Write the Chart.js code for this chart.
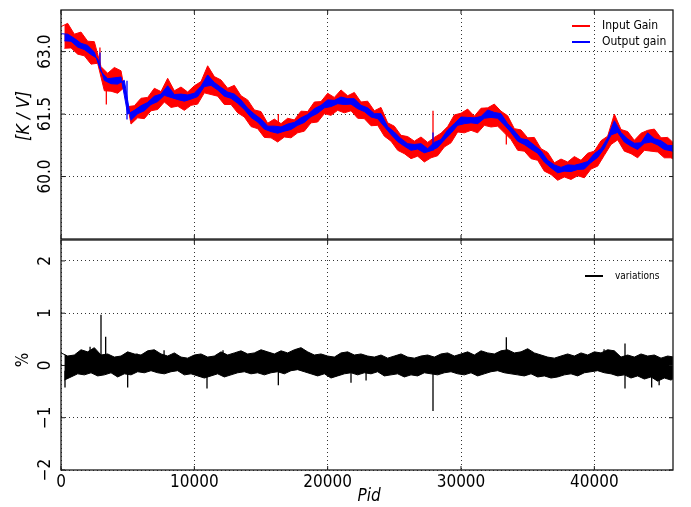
<!DOCTYPE html>
<html>
<head>
<meta charset="utf-8">
<script src="https://cdn.jsdelivr.net/npm/chart.js@4.4.0/dist/chart.umd.min.js"></script>
<style>
    html, body { margin: 0; padding: 0; background: #fff; }
    #wrap { position: relative; width: 691px; height: 507px; }
    canvas { position: absolute; left: 0; top: 0; }
</style>
</head>
<body>
<div id="wrap">
    <canvas id="gainChart" width="691" height="507"></canvas>
    <canvas id="varChart" width="691" height="507"></canvas>
</div>
<script>
// samples every 500 Pid (upper edge of the trace), lower edge sits 250 Pid later
const pidStep = 500;

const inputGainHi = [63.60, 63.68, 63.42, 63.47, 63.25, 63.24, 62.64, 62.48, 62.62, 62.54,
    61.68, 61.70, 61.88, 61.90, 62.12, 62.04, 62.36, 62.06, 62.15, 62.03,
    62.18, 62.28, 62.66, 62.40, 62.32, 62.12, 62.19, 61.94, 61.84, 61.60,
    61.56, 61.28, 61.38, 61.27, 61.40, 61.36, 61.57, 61.56, 61.79, 61.80,
    62.00, 61.90, 62.08, 61.94, 62.02, 61.79, 61.81, 61.58, 61.66, 61.29,
    61.21, 60.99, 60.96, 60.85, 60.95, 60.82, 60.94, 61.04, 61.20, 61.48,
    61.52, 61.62, 61.45, 61.64, 61.65, 61.74, 61.57, 61.46, 61.15, 61.12,
    60.93, 60.94, 60.67, 60.58, 60.33, 60.42, 60.35, 60.48, 60.39, 60.56,
    60.61, 60.86, 60.97, 61.50, 61.13, 61.08, 60.87, 61.04, 61.11, 61.14,
    60.93, 60.94, 60.79];
const inputGainLo = [63.08, 63.09, 62.94, 62.90, 62.70, 62.72, 62.06, 62.05, 62.00, 62.14,
    61.26, 61.41, 61.39, 61.58, 61.61, 61.79, 61.66, 61.69, 61.59, 61.71,
    61.74, 62.01, 61.97, 61.93, 61.73, 61.73, 61.53, 61.43, 61.20, 61.15,
    60.94, 60.93, 60.83, 60.95, 60.93, 61.05, 61.09, 61.29, 61.31, 61.51,
    61.47, 61.59, 61.53, 61.58, 61.40, 61.39, 61.22, 61.23, 60.97, 60.85,
    60.63, 60.55, 60.43, 60.49, 60.35, 60.45, 60.50, 60.71, 60.81, 61.07,
    61.05, 61.11, 61.05, 61.23, 61.19, 61.21, 61.05, 60.89, 60.63, 60.61,
    60.43, 60.39, 60.13, 60.05, 59.91, 59.99, 59.93, 60.02, 59.97, 60.18,
    60.25, 60.51, 60.77, 60.88, 60.61, 60.55, 60.45, 60.63, 60.61, 60.59,
    60.45, 60.45, 60.35];

const outputGainHi = [63.43, 63.42, 63.32, 63.20, 63.15, 62.99, 62.52, 62.35, 62.37, 62.39,
    61.50, 61.59, 61.70, 61.78, 61.93, 61.98, 62.18, 61.97, 61.98, 61.96,
    62.00, 62.17, 62.44, 62.26, 62.14, 62.03, 61.98, 61.84, 61.64, 61.50,
    61.38, 61.21, 61.21, 61.19, 61.26, 61.30, 61.41, 61.49, 61.63, 61.71,
    61.84, 61.83, 61.91, 61.87, 61.87, 61.71, 61.65, 61.51, 61.51, 61.20,
    61.07, 60.91, 60.79, 60.77, 60.79, 60.67, 60.82, 60.89, 61.12, 61.27,
    61.43, 61.42, 61.41, 61.44, 61.60, 61.54, 61.51, 61.27, 61.10, 60.91,
    60.88, 60.75, 60.62, 60.39, 60.28, 60.22, 60.28, 60.27, 60.31, 60.36,
    60.55, 60.67, 60.93, 61.34, 61.06, 60.90, 60.80, 60.81, 61.05, 60.91,
    60.86, 60.75, 60.74];
const outputGainLo = [63.26, 63.25, 63.11, 63.05, 62.93, 62.83, 62.31, 62.23, 62.22, 62.31,
    61.35, 61.51, 61.58, 61.73, 61.80, 61.95, 61.90, 61.85, 61.81, 61.86,
    61.92, 62.16, 62.19, 62.08, 61.93, 61.88, 61.76, 61.61, 61.42, 61.31,
    61.14, 61.08, 61.04, 61.09, 61.13, 61.23, 61.30, 61.44, 61.52, 61.65,
    61.68, 61.75, 61.73, 61.74, 61.63, 61.56, 61.43, 61.39, 61.20, 61.01,
    60.84, 60.73, 60.63, 60.66, 60.57, 60.62, 60.70, 60.88, 61.04, 61.23,
    61.27, 61.29, 61.27, 61.40, 61.42, 61.40, 61.24, 61.06, 60.85, 60.77,
    60.66, 60.56, 60.35, 60.21, 60.09, 60.13, 60.12, 60.17, 60.18, 60.34,
    60.46, 60.68, 61.00, 61.06, 60.83, 60.73, 60.65, 60.80, 60.83, 60.76,
    60.65, 60.62, 60.56];

const variationsHi = [0.24, 0.18, 0.20, 0.30, 0.26, 0.34, 0.20, 0.22, 0.16, 0.18,
    0.26, 0.22, 0.20, 0.28, 0.30, 0.22, 0.18, 0.24, 0.16, 0.14,
    0.20, 0.22, 0.16, 0.18, 0.26, 0.20, 0.24, 0.28, 0.22, 0.24,
    0.30, 0.26, 0.22, 0.28, 0.24, 0.30, 0.34, 0.26, 0.20, 0.22,
    0.18, 0.16, 0.24, 0.26, 0.20, 0.22, 0.18, 0.16, 0.20, 0.14,
    0.18, 0.22, 0.16, 0.14, 0.18, 0.20, 0.16, 0.22, 0.24, 0.18,
    0.22, 0.26, 0.20, 0.28, 0.24, 0.22, 0.28, 0.30, 0.24, 0.26,
    0.32, 0.24, 0.20, 0.16, 0.14, 0.18, 0.22, 0.18, 0.24, 0.20,
    0.26, 0.24, 0.30, 0.28, 0.16, 0.20, 0.16, 0.22, 0.18, 0.20,
    0.14, 0.18, 0.16];
const variationsLo = [-0.28, -0.22, -0.16, -0.18, -0.14, -0.20, -0.18, -0.14, -0.22, -0.16,
    -0.18, -0.12, -0.14, -0.10, -0.14, -0.16, -0.12, -0.10, -0.18, -0.16,
    -0.20, -0.24, -0.20, -0.16, -0.22, -0.18, -0.14, -0.12, -0.16, -0.14,
    -0.18, -0.14, -0.12, -0.16, -0.10, -0.08, -0.12, -0.16, -0.20, -0.16,
    -0.24, -0.20, -0.16, -0.14, -0.18, -0.14, -0.16, -0.12, -0.20, -0.18,
    -0.16, -0.22, -0.18, -0.20, -0.14, -0.16, -0.18, -0.14, -0.12, -0.16,
    -0.18, -0.14, -0.20, -0.16, -0.12, -0.10, -0.14, -0.16, -0.18, -0.20,
    -0.16, -0.22, -0.20, -0.24, -0.22, -0.18, -0.16, -0.20, -0.14, -0.12,
    -0.10, -0.14, -0.16, -0.20, -0.18, -0.24, -0.20, -0.26, -0.22, -0.30,
    -0.24, -0.28, -0.20];

// single-sample glitches
const inputSpikePid = [2920, 3400, 16300, 27900, 33400];
const inputSpikeFrom = [62.60, 62.20, 61.20, 60.62, 61.30];
const inputSpikeTo = [63.10, 61.73, 61.50, 61.58, 60.77];
const outputSpikePid = [2920, 4950, 27900];
const outputSpikeFrom = [62.60, 62.30, 60.62];
const outputSpikeTo = [62.98, 61.37, 61.06];
const variationSpikePid = [300, 2180, 3000, 3350, 5000, 5700, 7730, 10950, 12150, 16300,
    18000, 21750, 22880, 27900, 33400, 35030, 40730, 42300, 44300, 44860];
const variationSpikeFrom = [-0.10, 0.10, 0.10, 0.10, -0.10, 0.10, 0.10, -0.10, 0.10, -0.10,
    0.10, -0.10, -0.10, -0.10, 0.10, 0.10, 0.10, 0.42, -0.10, -0.10];
const variationSpikeTo = [-0.42, 0.36, 0.97, 0.55, -0.42, 0.23, 0.29, -0.44, 0.29, -0.38,
    0.33, -0.33, -0.29, -0.87, 0.54, 0.31, 0.31, -0.44, -0.42, -0.38];

const xTicks = [0, 10000, 20000, 30000, 40000];
const xTickLabels = ['0', '10000', '20000', '30000', '40000'];
const gainTicks = [60.0, 61.5, 63.0];
const gainTickLabels = ['60.0', '61.5', '63.0'];
const varTicks = [-2, -1, 0, 1, 2];
const varTickLabels = ['\u22122', '\u22121', '0', '1', '2'];

const FONT = '"DejaVu Sans", sans-serif';

function edgePoints(values, offset) {
    return values.map((v, i) => ({ x: i * pidStep + offset, y: v }));
}

function spikePoints(pids, from, to) {
    const pts = [];
    pids.forEach((p, i) => {
        pts.push({ x: p, y: from[i] }, { x: p, y: to[i] }, { x: p, y: null });
    });
    return pts;
}

function band(label, hi, lo, color, order) {
    return [
        { label, data: edgePoints(hi, 0), borderColor: color, backgroundColor: color,
          borderWidth: 1, pointRadius: 0, fill: false, order, inLegend: true },
        { label: label + ' lo', data: edgePoints(lo, pidStep / 2), borderColor: color, backgroundColor: color,
          borderWidth: 1, pointRadius: 0, fill: '-1', order }
    ];
}

function spikes(label, pids, from, to, color, order) {
    return { label, data: spikePoints(pids, from, to), borderColor: color, borderWidth: 1.3,
             pointRadius: 0, spanGaps: false, fill: false, order };
}

function line(ctx, x1, y1, x2, y2) {
    ctx.beginPath(); ctx.moveTo(x1, y1); ctx.lineTo(x2, y2); ctx.stroke();
}

function setFont(ctx, f) {
    ctx.font = f + FONT;
    ctx.fontStretch = 'condensed';
}

function decor(cfg) {
    return {
        id: 'decor',
        afterDraw(chart) {
            const { ctx, chartArea: a, scales } = chart;
            ctx.save();
            ctx.strokeStyle = '#1a1a1a';
            ctx.lineWidth = 1.3;
            ctx.strokeRect(a.left, a.top, a.right - a.left, a.bottom - a.top);
            ctx.lineWidth = 1;
            cfg.yTicks.forEach(v => {
                const y = scales.y.getPixelForValue(v);
                line(ctx, a.left, y, a.left + 4, y);
                line(ctx, a.right, y, a.right - 4, y);
            });
            xTicks.forEach(v => {
                const x = scales.x.getPixelForValue(v);
                line(ctx, x, a.top, x, a.top + 4);
                line(ctx, x, a.bottom, x, a.bottom - 4);
            });

            ctx.fillStyle = '#000';
            setFont(ctx, '17px ');
            ctx.textAlign = 'center';
            ctx.textBaseline = 'middle';
            cfg.yTicks.forEach((v, i) => {
                ctx.save();
                ctx.translate(46, scales.y.getPixelForValue(v));
                ctx.rotate(-Math.PI / 2);
                ctx.fillText(cfg.yLabels[i], 0, 0);
                ctx.restore();
            });
            if (cfg.xLabels) {
                xTicks.forEach((v, i) => {
                    ctx.fillText(xTickLabels[i], scales.x.getPixelForValue(v), 483);
                });
                setFont(ctx, 'italic 17px ');
                ctx.fillText('Pid', 369, 497);
            }
            ctx.save();
            ctx.translate(24, cfg.titleY);
            ctx.rotate(-Math.PI / 2);
            setFont(ctx, cfg.titleFont);
            ctx.fillText(cfg.title, 0, 0);
            ctx.restore();

            // legend
            setFont(ctx, cfg.legendFont);
            ctx.textAlign = 'left';
            let ly = cfg.legendY;
            chart.data.datasets.filter(d => d.inLegend).forEach(d => {
                ctx.strokeStyle = d.borderColor;
                ctx.lineWidth = 2;
                line(ctx, cfg.legendX, ly, cfg.legendX + 18, ly);
                ctx.fillStyle = '#000';
                ctx.fillText(d.label, cfg.legendX + 30, ly);
                ly += 16;
            });
            ctx.restore();
        }
    };
}

function panelOptions(yMin, yMax, yTicks, padding) {
    const grid = { color: '#333', lineWidth: 1, drawTicks: false };
    const border = { display: false, dash: [1, 3] };
    return {
        responsive: false,
        animation: false,
        layout: { padding },
        plugins: { legend: { display: false }, tooltip: { enabled: false } },
        scales: {
            x: {
                type: 'linear', min: 0, max: 45900,
                grid, border,
                ticks: { display: false },
                afterBuildTicks: s => { s.ticks = xTicks.map(v => ({ value: v })); },
                afterFit: s => { s.height = 0; }
            },
            y: {
                min: yMin, max: yMax,
                grid, border,
                ticks: { display: false },
                afterBuildTicks: s => { s.ticks = yTicks.map(v => ({ value: v })); },
                afterFit: s => { s.width = 0; }
            }
        }
    };
}

new Chart(document.getElementById('gainChart'), {
    type: 'line',
    data: {
        datasets: [
            ...band('Input Gain', inputGainHi, inputGainLo, '#ff0000', 3),
            spikes('input spikes', inputSpikePid, inputSpikeFrom, inputSpikeTo, '#ff0000', 3),
            ...band('Output gain', outputGainHi, outputGainLo, '#0000ff', 1),
            spikes('output spikes', outputSpikePid, outputSpikeFrom, outputSpikeTo, '#0000ff', 1)
        ]
    },
    options: panelOptions(58.5, 64.0, gainTicks, { left: 61, top: 10, right: 18, bottom: 268 }),
    plugins: [decor({ yTicks: gainTicks, yLabels: gainTickLabels, title: '[K / V]', titleY: 116,
        titleFont: 'italic 18px ', legendX: 572, legendY: 26, legendFont: '12px ' })]
});

new Chart(document.getElementById('varChart'), {
    type: 'line',
    data: {
        datasets: [
            ...band('variations', variationsHi, variationsLo, '#000000', 1),
            spikes('variation spikes', variationSpikePid, variationSpikeFrom, variationSpikeTo, '#000000', 1)
        ]
    },
    options: panelOptions(-2, 2.4, varTicks, { left: 61, top: 240, right: 18, bottom: 37 }),
    plugins: [decor({ yTicks: varTicks, yLabels: varTickLabels, xLabels: true, title: '%', titleY: 360,
        titleFont: '17px ', legendX: 585, legendY: 276, legendFont: '10px ' })]
});
</script>
</body>
</html>
